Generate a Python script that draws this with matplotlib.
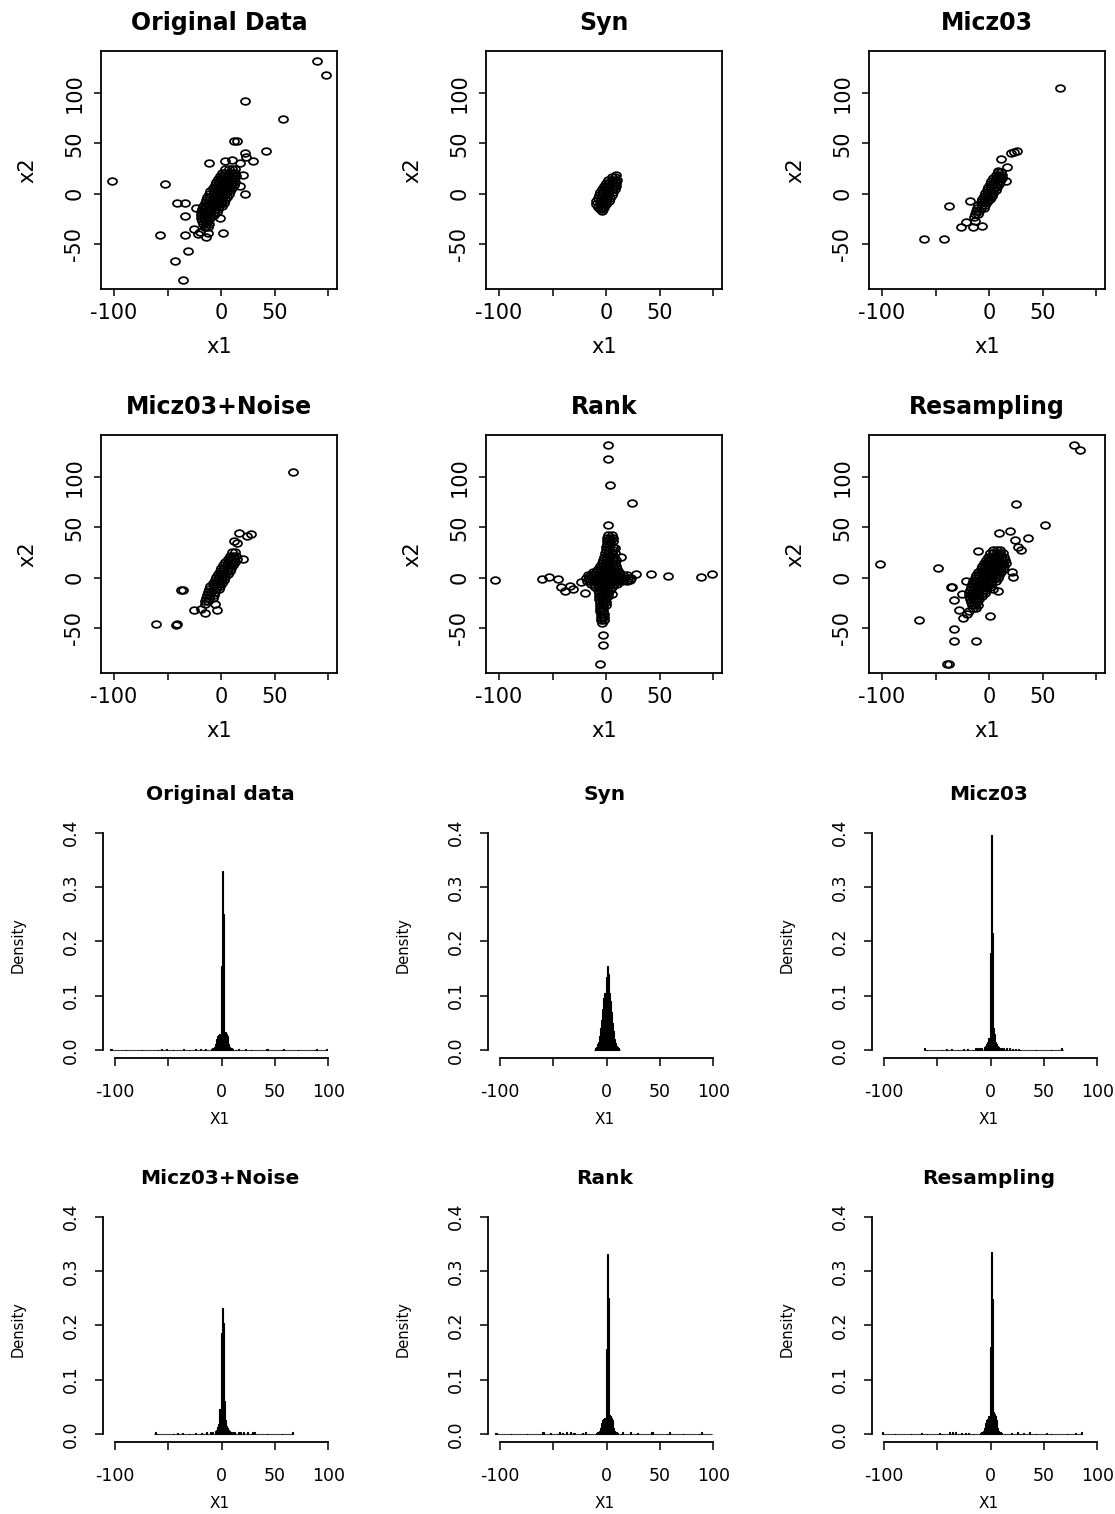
import matplotlib
matplotlib.use("Agg")
import matplotlib.pyplot as plt
import numpy as np
from matplotlib.path import Path
from matplotlib.transforms import Affine2D

plt.rcParams["font.family"] = ["DejaVu Sans"]
plt.rcParams["axes.unicode_minus"] = False

W, H = 1115, 1514

# ----------------------------- scatter data (x1, x2) -----------------------------
# dense core read row by row: {x2: [x1, ...]}, outliers as (x1, x2)
orig_core = {24: [4, 7, 10, 13], 21: [1, 4, 7, 10, 13], 18: [-1, 2, 5, 8, 11, 14],
             15: [-3, 0, 3, 6, 9, 12], 12: [-5, -2, 1, 4, 7, 10, 13],
             9: [-6, -3, 0, 3, 6, 9, 12], 6: [-8, -5, -2, 1, 4, 7, 10],
             3: [-10, -7, -4, -1, 2, 5, 8], 0: [-11, -8, -5, -2, 1, 4, 7],
             -3: [-13, -10, -7, -4, -1, 2, 5], -6: [-14, -11, -8, -5, -2, 1, 4],
             -9: [-15, -12, -9, -6, -3, 0, 3], -12: [-17, -14, -11, -8, -5, -2, 1],
             -15: [-18, -15, -12, -9, -6, -3], -18: [-19, -16, -13, -10, -7, -4],
             -21: [-19, -16, -13, -10, -7], -24: [-19, -16, -13, -10],
             -27: [-18, -15, -12], -30: [-17, -14, -11], -33: [-15, -12]}
orig_out = [(89, 132), (98, 118), (22, 92), (58, 74), (42, 42), (12, 52), (15, 52),
            (22, 40), (23, 36), (30, 32), (18, 30), (10, 33), (4, 32), (-11, 30),
            (-102, 13), (-52, 10), (-41, -9), (-34, -9), (-34, -22), (-23, -14),
            (-57, -41), (-34, -41), (-31, -57), (-43, -67), (-36, -86), (-25, -35),
            (-22, -40), (-20, -38), (-14, -43), (-15, -33), (-12, -39), (2, -39),
            (-1, -24), (22, 0), (20, 19), (18, 8)]

syn_core = {17: [5, 8], 14: [2, 5, 8, 10], 11: [0, 3, 6, 9], 8: [-2, 1, 4, 7, 9],
            5: [-4, -1, 2, 5, 8], 2: [-6, -3, 0, 3, 6], -1: [-7, -4, -1, 2, 5],
            -4: [-8, -5, -2, 1, 4], -7: [-9, -6, -3, 0, 3], -10: [-9, -6, -3, 0],
            -13: [-8, -5, -2], -15: [-6, -3]}
syn_out = [(9, 19), (-4, -17)]

micz_core = {22: [8, 11], 19: [6, 9, 12], 16: [4, 7, 10, 12], 13: [2, 5, 8, 10],
             10: [1, 4, 7, 9], 7: [-1, 2, 5, 7], 4: [-2, 1, 4, 6], 1: [-4, -1, 2, 4],
             -2: [-5, -2, 1, 3], -5: [-7, -4, -1, 1], -8: [-8, -5, -2],
             -11: [-10, -7, -4], -14: [-11, -8, -5], -17: [-12, -9], -20: [-13, -10],
             -23: [-14]}
micz_out = [(66, 105), (-61, -45), (-42, -45), (-37, -12), (-26, -33), (-15, -33),
            (-7, -32), (-22, -28), (-13, -27), (11, 34), (20, 40), (26, 42), (23, 41),
            (17, 26), (8, 23), (16, 13), (-18, -7)]

noise_core = {25: [10, 13], 22: [8, 11, 14], 19: [6, 9, 12, 15], 16: [4, 7, 10, 13],
              13: [2, 5, 8, 11], 10: [0, 3, 6, 9], 7: [-1, 2, 5, 8], 4: [-3, 0, 3, 6],
              1: [-5, -2, 1, 4], -2: [-6, -3, 0, 3], -5: [-8, -5, -2, 1],
              -8: [-10, -7, -4, -1], -11: [-11, -8, -5, -2], -14: [-12, -9, -6],
              -17: [-13, -10, -7], -20: [-14, -11, -8], -23: [-15, -12], -26: [-15]}
noise_out = [(67, 105), (-61, -46), (-42, -47), (-41, -46), (-37, -12), (-36, -12),
             (-25, -32), (-19, -31), (-15, -35), (-4, -32), (-6, -26), (17, 44),
             (12, 36), (15, 34), (24, 41), (28, 43), (20, 19)]

rank_core = {42: [2, 5], 39: [1, 4, 6], 36: [1, 4, 6], 33: [1, 4], 30: [0, 3, 6],
             27: [0, 3, 6], 24: [-1, 2, 5, 8], 21: [-2, 1, 4, 7], 18: [-3, 0, 3, 6, 9],
             15: [-4, -1, 2, 5, 8], 12: [-6, -3, 0, 3, 6, 9],
             9: [-8, -5, -2, 1, 4, 7, 10], 6: [-12, -9, -6, -3, 0, 3, 6, 9, 12],
             3: [-17, -14, -11, -8, -5, -2, 1, 4, 7, 10, 13, 16, 19],
             0: [-19, -16, -13, -10, -7, -4, -1, 2, 5, 8, 11, 14, 17, 20, 23],
             -3: [-18, -15, -12, -9, -6, -3, 0, 3, 6, 9, 12, 15, 19],
             -6: [-14, -11, -8, -5, -2, 1, 4, 7, 10], -9: [-10, -7, -4, -1, 2, 5],
             -12: [-8, -5, -2, 1, 4], -15: [-7, -4, -1, 2], -18: [-7, -4, -1, 2],
             -21: [-7, -4, -1], -24: [-6, -3, 0], -27: [-6, -3, 0], -30: [-6, -3],
             -33: [-6, -3], -36: [-5, -2], -39: [-5, -2], -42: [-5, -2], -45: [-4]}
rank_out = [(2, 132), (2, 118), (4, 92), (24, 74), (2, 52), (8, 29), (14, 21),
            (-3, -57), (-3, -67), (-6, -86), (-104, -2), (-60, -1), (-53, 1),
            (-45, -1), (-42, -9), (-38, -13), (-34, -8), (-31, -11), (-23, -4),
            (-20, -15), (5, -16), (22, -2), (28, 4), (42, 4), (58, 2), (88, 1),
            (99, 4), (-5, -32), (-4, -40)]

resamp_core = {27: [4, 7, 10], 24: [1, 4, 7, 10, 13], 21: [-1, 2, 5, 8, 11, 14],
               18: [-3, 0, 3, 6, 9, 12, 15], 15: [-5, -2, 1, 4, 7, 10, 13, 16],
               12: [-7, -4, -1, 2, 5, 8, 11, 14], 9: [-8, -5, -2, 1, 4, 7, 10, 13],
               6: [-10, -7, -4, -1, 2, 5, 8, 11], 3: [-12, -9, -6, -3, 0, 3, 6, 9],
               0: [-13, -10, -7, -4, -1, 2, 5, 8], -3: [-15, -12, -9, -6, -3, 0, 3, 6],
               -6: [-16, -13, -10, -7, -4, -1, 2], -9: [-17, -14, -11, -8, -5, -2, 1],
               -12: [-18, -15, -12, -9, -6, -3], -15: [-19, -16, -13, -10, -7, -4],
               -18: [-19, -16, -13, -10, -7], -21: [-18, -15, -12, -9],
               -24: [-17, -14, -11], -27: [-16, -13, -10], -30: [-15, -12]}
resamp_out = [(79, 132), (85, 127), (25, 73), (52, 52), (9, 44), (19, 46), (36, 39),
              (24, 37), (27, 30), (30, 27), (-102, 14), (-48, 10), (-36, -9),
              (-35, -9), (-33, -22), (-28, -32), (-24, -40), (-21, -36), (-19, -33),
              (-65, -42), (-33, -51), (-33, -63), (-12, -63), (1, -38), (-39, -86),
              (-37, -86), (-10, 26), (22, 1), (21, 6), (8, -13), (4, -11), (-22, -3),
              (-25, -16)]

scatter_titles = ["Original Data", "Syn", "Micz03", "Micz03+Noise", "Rank", "Resampling"]
scatter_cores = [orig_core, syn_core, micz_core, noise_core, rank_core, resamp_core]
scatter_outs = [orig_out, syn_out, micz_out, noise_out, rank_out, resamp_out]

# ----------------------------- histogram data (density of x1, bin width 1) -------
orig_range = (-104, 99)
orig_dens = {-10: 0.002, -9: 0.003, -8: 0.004, -7: 0.006, -6: 0.01, -5: 0.02,
             -4: 0.025, -3: 0.028, -2: 0.03, -1: 0.155, 0: 0.33, 1: 0.25, 2: 0.033,
             3: 0.032, 4: 0.03, 5: 0.026, 6: 0.01, 7: 0.006, 8: 0.004, 9: 0.003,
             10: 0.002, -104: 0.002, -57: 0.002, -52: 0.002, -36: 0.002, -25: 0.002,
             -20: 0.002, -16: 0.002, 15: 0.002, 22: 0.002, 42: 0.002, 57: 0.002,
             88: 0.002, 98: 0.002}

syn_range = (-12, 13)
syn_dens = {-11: 0.003, -10: 0.006, -9: 0.01, -8: 0.015, -7: 0.025, -6: 0.04,
            -5: 0.055, -4: 0.075, -3: 0.095, -2: 0.105, -1: 0.135, 0: 0.155, 1: 0.14,
            2: 0.105, 3: 0.09, 4: 0.07, 5: 0.05, 6: 0.035, 7: 0.02, 8: 0.012, 9: 0.008,
            10: 0.005, 11: 0.003}

micz_range = (-62, 68)
micz_dens = {-6: 0.005, -5: 0.007, -4: 0.01, -3: 0.015, -2: 0.022, -1: 0.178,
             0: 0.395, 1: 0.215, 2: 0.04, 3: 0.03, 4: 0.015, 5: 0.01, 6: 0.007,
             7: 0.005, 8: 0.004, -62: 0.003, -42: 0.002, -37: 0.002, -26: 0.002,
             -22: 0.002, -15: 0.003, -13: 0.003, -11: 0.004, -9: 0.004, 10: 0.004,
             12: 0.003, 14: 0.003, 17: 0.003, 20: 0.002, 23: 0.002, 26: 0.002, 66: 0.003}

noise_range = (-63, 67)
noise_dens = {-6: 0.005, -5: 0.008, -4: 0.012, -3: 0.018, -2: 0.045, -1: 0.185,
              0: 0.232, 1: 0.205, 2: 0.06, 3: 0.025, 4: 0.015, 5: 0.01, 6: 0.007,
              7: 0.005, 8: 0.004, -62: 0.003, -42: 0.002, -37: 0.002, -25: 0.002,
              -19: 0.002, -15: 0.003, -11: 0.003, -9: 0.004, 10: 0.004, 12: 0.004,
              15: 0.004, 17: 0.004, 20: 0.004, 24: 0.004, 28: 0.004, 30: 0.004, 66: 0.003}

rank_range = (-104, 99)
rank_dens = {-10: 0.002, -9: 0.003, -8: 0.004, -7: 0.006, -6: 0.01, -5: 0.02,
             -4: 0.025, -3: 0.028, -2: 0.03, -1: 0.157, 0: 0.332, 1: 0.25, 2: 0.034,
             3: 0.032, 4: 0.03, 5: 0.025, 6: 0.01, 7: 0.006, 8: 0.004, 9: 0.003,
             10: 0.002, -104: 0.002, -60: 0.003, -53: 0.002, -45: 0.003, -42: 0.002,
             -38: 0.003, -34: 0.003, -31: 0.002, -23: 0.002, -20: 0.003, 14: 0.003,
             22: 0.003, 28: 0.002, 42: 0.003, 58: 0.003, 88: 0.003, 99: 0.003}

resamp_range = (-102, 86)
resamp_dens = {-10: 0.002, -9: 0.003, -8: 0.004, -7: 0.006, -6: 0.01, -5: 0.02,
               -4: 0.025, -3: 0.028, -2: 0.032, -1: 0.16, 0: 0.335, 1: 0.248, 2: 0.04,
               3: 0.036, 4: 0.032, 5: 0.026, 6: 0.01, 7: 0.006, 8: 0.004, 9: 0.003,
               10: 0.002, -102: 0.003, -65: 0.002, -48: 0.002, -39: 0.003, -36: 0.003,
               -33: 0.003, -28: 0.002, -24: 0.002, -21: 0.002, 19: 0.002, 25: 0.003,
               30: 0.002, 36: 0.003, 52: 0.002, 79: 0.002, 85: 0.003}

hist_titles = ["Original data", "Syn", "Micz03", "Micz03+Noise", "Rank", "Resampling"]
hist_ranges = [orig_range, syn_range, micz_range, noise_range, rank_range, resamp_range]
hist_dens = [orig_dens, syn_dens, micz_dens, noise_dens, rank_dens, resamp_dens]

axis_ticks = [-100, -50, 0, 50, 100]
scatter_xlabels = ["-100", "", "0", "50", ""]
scatter_yticks = [-50, 0, 50, 100]
hist_xlabels = ["-100", "", "0", "50", "100"]
hist_yticks = [0.0, 0.1, 0.2, 0.3, 0.4]

# open circle, stretched sideways like the source image
ELLIPSE = Path.unit_circle().transformed(Affine2D().scale(1.35, 1.0))


def frac(left, top, w, h):
    return [left / W, 1 - (top + h) / H, w / W, h / H]


def scatter_panel(fig, left, top, title, core, outs):
    w, h = 236, 238
    ax = fig.add_axes(frac(left, top, w, h))
    xs = [x for y, row in core.items() for x in row] + [p[0] for p in outs]
    ys = [y for y, row in core.items() for x in row] + [p[1] for p in outs]
    ax.plot(xs, ys, ls="none", marker=ELLIPSE, ms=6.5, mfc="none", mec="black", mew=1.25)
    ax.set_xlim(-112, 108)
    ax.set_ylim(-95, 142)
    ax.set_xticks(axis_ticks, scatter_xlabels)
    ax.set_yticks(scatter_yticks, [str(t) for t in scatter_yticks])
    ax.tick_params(axis="both", direction="out", length=5, width=1.1, labelsize=15,
                   color="black")
    ax.tick_params(axis="x", pad=5)
    ax.tick_params(axis="y", pad=7, labelrotation=90)
    for lab in ax.get_yticklabels():
        lab.set_va("center")
    for sp in ax.spines.values():
        sp.set_linewidth(1.3)
    ax.set_xlabel("x1", fontsize=15)
    ax.set_ylabel("x2", fontsize=15)
    ax.xaxis.set_label_coords(0.5, -58 / h, transform=ax.transAxes)
    ax.yaxis.set_label_coords(-74 / w, 0.5, transform=ax.transAxes)
    ax.xaxis.label.set_va("center")
    ax.yaxis.label.set_va("center")
    ax.set_title(title, fontsize=17, fontweight="bold", pad=15)
    return ax


def hist_panel(fig, left, top, title, rng, dens):
    w, h = 234, 234
    ax = fig.add_axes(frac(left, top, w, h))
    edges = np.arange(rng[0], rng[1])
    heights = [dens.get(int(e), 0.0) for e in edges]
    ax.bar(edges, heights, width=1.0, align="edge", color="black",
           edgecolor="black", linewidth=0.8)
    ax.set_xlim(-111, 108)
    ax.set_ylim(-0.015, 0.416)
    ax.spines["top"].set_visible(False)
    ax.spines["right"].set_visible(False)
    ax.spines["left"].set_bounds(0, 0.4)
    ax.spines["bottom"].set_bounds(-100, 100)
    for sp in ("left", "bottom"):
        ax.spines[sp].set_linewidth(1.3)
    ax.set_xticks(axis_ticks, hist_xlabels)
    ax.set_yticks(hist_yticks, [f"{t:.1f}" for t in hist_yticks])
    ax.tick_params(axis="both", direction="out", length=6, width=1.1, labelsize=12.5,
                   color="black")
    ax.tick_params(axis="x", pad=12)
    ax.tick_params(axis="y", pad=11, labelrotation=90)
    for lab in ax.get_yticklabels():
        lab.set_va("center")
    ax.set_xlabel("X1", fontsize=11)
    ax.set_ylabel("Density", fontsize=10.5)
    ax.xaxis.set_label_coords(0.5, -61 / h, transform=ax.transAxes)
    ax.yaxis.set_label_coords(-85 / w, 0.5 - 0.016, transform=ax.transAxes)
    ax.xaxis.label.set_va("center")
    ax.yaxis.label.set_va("center")
    ax.set_title(title, fontsize=14.5, fontweight="bold", pad=17)
    return ax


fig = plt.figure(figsize=(W / 100, H / 100), dpi=100)
fig.patch.set_facecolor("white")

scatter_lefts = [101, 486, 869]
scatter_tops = [51, 435]
for i, (title, core, outs) in enumerate(zip(scatter_titles, scatter_cores, scatter_outs)):
    scatter_panel(fig, scatter_lefts[i % 3], scatter_tops[i // 3], title, core, outs)

hist_lefts = [103, 488, 872]
hist_tops = [824, 1208]
for i, (title, rng, dens) in enumerate(zip(hist_titles, hist_ranges, hist_dens)):
    hist_panel(fig, hist_lefts[i % 3], hist_tops[i // 3], title, rng, dens)

fig.savefig("out.png", dpi=100)
